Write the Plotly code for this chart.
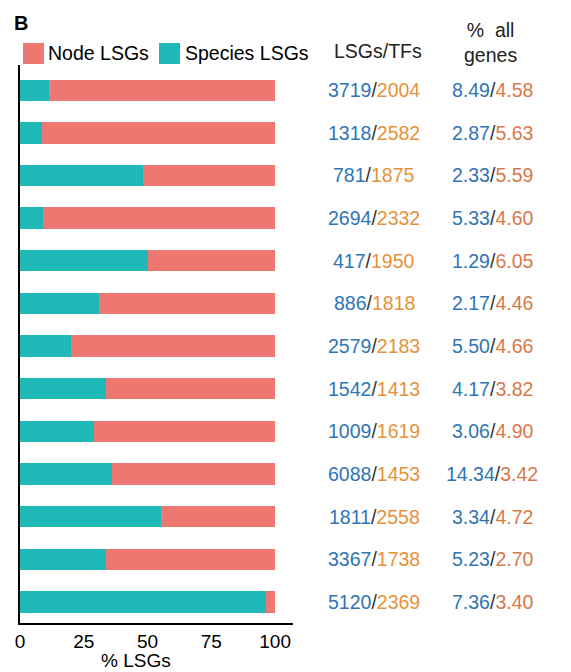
import plotly.graph_objects as go


# values (one entry per bar, top to bottom)
rows = list(range(13))
species_pct = [11.5, 8.6, 48.2, 9.1, 50.0, 31.1, 20.0, 33.6, 29.0, 36.2, 55.3, 33.6, 96.5]
node_pct = [88.5, 91.4, 51.8, 90.9, 50.0, 68.9, 80.0, 66.4, 71.0, 63.8, 44.7, 66.4, 3.5]
lsgs = ["3719", "1318", "781", "2694", "417", "886", "2579", "1542", "1009", "6088", "1811", "3367", "5120"]
tfs = ["2004", "2582", "1875", "2332", "1950", "1818", "2183", "1413", "1619", "1453", "2558", "1738", "2369"]
pct_lsgs = ["8.49", "2.87", "2.33", "5.33", "1.29", "2.17", "5.50", "4.17", "3.06", "14.34", "3.34", "5.23", "7.36"]
pct_tfs = ["4.58", "5.63", "5.59", "4.60", "6.05", "4.46", "4.66", "3.82", "4.90", "3.42", "4.72", "2.70", "3.40"]
x_ticks = [0, 25, 50, 75, 100]

# the page puts the plot 8px in from the top-left corner
OFF = 8
W, H = 571 - OFF, 672 - OFF
M_L, M_R, M_T, M_B = 20 - OFF, 0, 65 - OFF, 49
PLOT_W = W - M_L - M_R
PLOT_H = H - M_T - M_B

TEAL = "#1FBAB7"
CORAL = "#EE7771"
BLUE = "#2E75B6"
ORANGE_TF = "#E8913B"
ORANGE_PCT = "#D97848"
FONT = "Liberation Sans, Arial, sans-serif"


def px_x(px):
    # screen pixel -> paper coordinate
    return (px - OFF - M_L) / PLOT_W


def px_y(py):
    return (H - M_B - (py - OFF)) / PLOT_H


def two_tone(a, b, color_b):
    return (
        f"<span style='color:{BLUE}'>{a}</span>"
        f"<span style='color:#333333'>/</span>"
        f"<span style='color:{color_b}'>{b}</span>"
    )


fig = go.Figure()
fig.add_trace(
    go.Bar(
        name="Species LSGs",
        y=rows,
        x=species_pct,
        orientation="h",
        width=0.5,
        marker={"color": TEAL, "line": {"width": 0}},
        showlegend=False,
    )
)
fig.add_trace(
    go.Bar(
        name="Node LSGs",
        y=rows,
        x=node_pct,
        orientation="h",
        width=0.5,
        marker={"color": CORAL, "line": {"width": 0}},
        showlegend=False,
    )
)

annotations = [
    dict(text="<b>B</b>", x=px_x(12), y=px_y(23), xanchor="left", yanchor="middle",
         font={"size": 20, "color": "#000000"}),
    dict(text="Node LSGs", x=px_x(46), y=px_y(53), xanchor="left", yanchor="middle",
         font={"size": 19.5, "color": "#000000"}),
    dict(text="Species LSGs", x=px_x(183), y=px_y(53), xanchor="left", yanchor="middle",
         font={"size": 19.5, "color": "#000000"}),
    dict(text="LSGs/TFs", x=px_x(378), y=px_y(51), xanchor="center", yanchor="middle",
         font={"size": 19.5, "color": "#222222"}),
    dict(text="%  all<br>genes", x=px_x(490), y=px_y(43), xanchor="center", yanchor="middle",
         font={"size": 19.5, "color": "#222222"}),
    dict(text="% LSGs", x=px_x(136), y=px_y(660), xanchor="center", yanchor="middle",
         font={"size": 19, "color": "#000000"}),
]
for i in rows:
    annotations.append(
        dict(text=two_tone(lsgs[i], tfs[i], ORANGE_TF), x=px_x(374), y=i, yref="y",
             xanchor="center", yanchor="middle", font={"size": 19.5})
    )
    annotations.append(
        dict(text=two_tone(pct_lsgs[i], pct_tfs[i], ORANGE_PCT), x=px_x(492), y=i, yref="y",
             xanchor="center", yanchor="middle", font={"size": 19.5})
    )
for a in annotations:
    a.setdefault("xref", "paper")
    a.setdefault("yref", "paper")
    a["showarrow"] = False

shapes = [
    dict(type="rect", xref="paper", yref="paper", x0=px_x(23), x1=px_x(44), y0=px_y(43), y1=px_y(64),
         fillcolor=CORAL, line={"width": 0}),
    dict(type="rect", xref="paper", yref="paper", x0=px_x(159), x1=px_x(180), y0=px_y(43), y1=px_y(64),
         fillcolor=TEAL, line={"width": 0}),
]

fig.update_layout(
    width=W,
    height=H,
    barmode="stack",
    paper_bgcolor="#FFFFFF",
    plot_bgcolor="#FFFFFF",
    font={"family": FONT, "color": "#000000", "size": 19},
    margin={"l": M_L, "r": M_R, "t": M_T, "b": M_B, "pad": 0},
    showlegend=False,
    xaxis={
        "domain": [0, 273 / PLOT_W],
        "range": [0, 107],
        "tickvals": x_ticks,
        "ticktext": [str(t) for t in x_ticks],
        "showgrid": False,
        "zeroline": False,
        "showline": True,
        "linecolor": "#000000",
        "linewidth": 2,
        "ticks": "",
        "tickfont": {"size": 19, "color": "#000000"},
    },
    yaxis={
        "range": [12.49, -0.59],
        "showticklabels": False,
        "showgrid": False,
        "zeroline": False,
        "showline": True,
        "linecolor": "#000000",
        "linewidth": 2,
        "ticks": "",
    },
    annotations=annotations,
    shapes=shapes,
)

fig.write_html("out.html")
